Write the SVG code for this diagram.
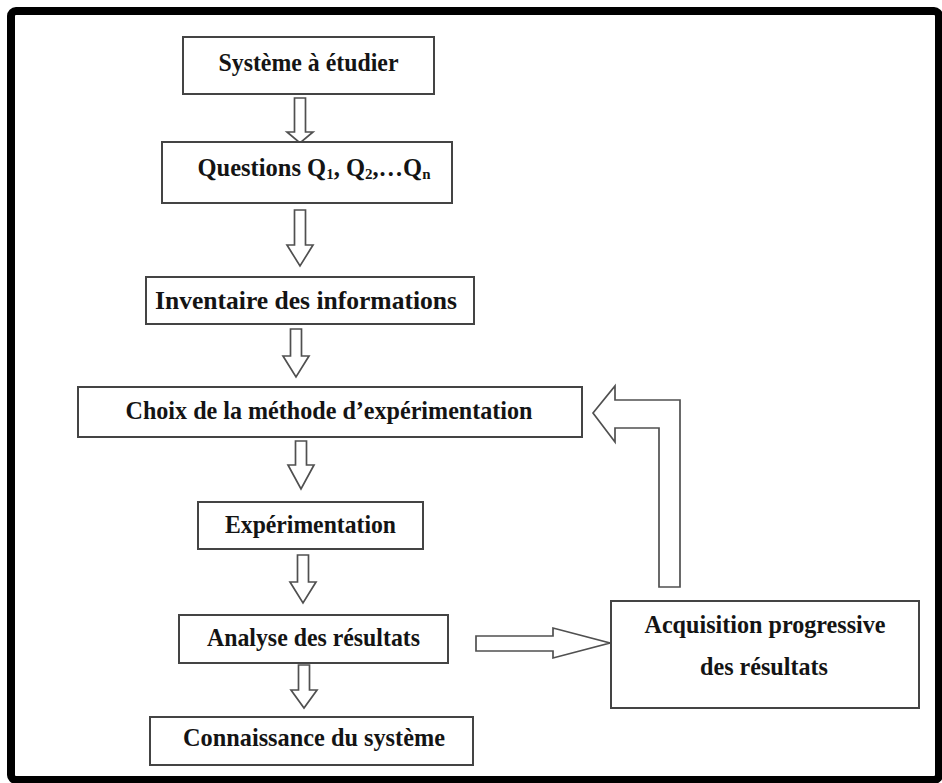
<svg xmlns="http://www.w3.org/2000/svg" width="942" height="783" viewBox="0 0 942 783">
<style>
.box{fill:#fff;stroke:#444;stroke-width:2}
.arr{fill:#fff;stroke:#505050;stroke-width:1.7;stroke-linejoin:miter}
.t{font-family:"Liberation Serif","Times New Roman",serif;font-weight:bold;font-size:26px;fill:#141414;text-anchor:middle}
.q{font-size:24.5px}
.sub{font-size:15px}
</style>
<rect x="0" y="0" width="942" height="783" fill="#fff"/>
<rect x="11" y="11" width="928" height="769" rx="5" fill="none" stroke="#000" stroke-width="8"/>
<g id="connectors">
<polygon class="arr" points="294.5,98 305.5,98 305.5,132 313,132 300,143 287,132 294.5,132"/>
<polygon class="arr" points="294.5,210 305.5,210 305.5,245 313,245 300,266 287,245 294.5,245"/>
<polygon class="arr" points="290.5,329 301.5,329 301.5,356 309,356 296,377 283,356 290.5,356"/>
<polygon class="arr" points="295.5,441 306.5,441 306.5,465 314,465 301,489 288,465 295.5,465"/>
<polygon class="arr" points="297.5,555 308.5,555 308.5,582 316,582 303,603 290,582 297.5,582"/>
<polygon class="arr" points="298.5,665 309.5,665 309.5,690 317,690 304,708 291,690 298.5,690"/>
<polygon class="arr" points="476,636 553,636 553,628 610,643 553,658 553,651 476,651"/>
<polygon class="arr" points="593,413 615,386 615,400 680,400 680,587 659,587 659,428 615,428 615,442"/>
</g>
<g id="n1"><rect class="box" x="183" y="37" width="251" height="57"/><text class="t" x="308.5" y="71" textLength="180" lengthAdjust="spacingAndGlyphs">Système à étudier</text></g>
<g id="n2"><rect class="box" x="162" y="142" width="290" height="61"/><text class="t q" x="314" y="176">Questions Q<tspan class="sub" dy="3">1</tspan><tspan dy="-3">, Q</tspan><tspan class="sub" dy="3">2</tspan><tspan dy="-3">,…Q</tspan><tspan class="sub" dy="3">n</tspan></text></g>
<g id="n3"><rect class="box" x="146" y="277" width="328" height="47"/><text class="t" x="306" y="309" textLength="302" lengthAdjust="spacingAndGlyphs">Inventaire des informations</text></g>
<g id="n4"><rect class="box" x="78" y="387" width="504" height="50"/><text class="t" x="329" y="419" textLength="407" lengthAdjust="spacingAndGlyphs">Choix de la méthode d’expérimentation</text></g>
<g id="n5"><rect class="box" x="198" y="502" width="225" height="47"/><text class="t" x="310.5" y="533" textLength="171" lengthAdjust="spacingAndGlyphs">Expérimentation</text></g>
<g id="n6"><rect class="box" x="179" y="615" width="269" height="48"/><text class="t" x="313.5" y="646" textLength="213" lengthAdjust="spacingAndGlyphs">Analyse des résultats</text></g>
<g id="n7"><rect class="box" x="150" y="717" width="323" height="48"/><text class="t" x="314" y="746" textLength="262" lengthAdjust="spacingAndGlyphs">Connaissance du système</text></g>
<g id="n8"><rect class="box" x="611" y="601" width="308" height="107"/><text class="t" x="765" y="633" textLength="241" lengthAdjust="spacingAndGlyphs">Acquisition progressive</text><text class="t" x="764" y="675" textLength="128" lengthAdjust="spacingAndGlyphs">des résultats</text></g>
</svg>
